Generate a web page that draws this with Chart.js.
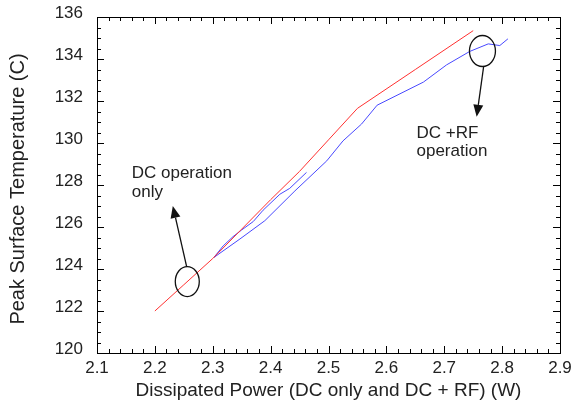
<!DOCTYPE html>
<html>
<head>
<meta charset="utf-8">
<script src="https://cdn.jsdelivr.net/npm/chart.js@4.4.0/dist/chart.umd.min.js"></script>
<style>
  html, body { margin: 0; padding: 0; background: #fff; }
  #wrap { width: 573px; height: 405px; }
</style>
</head>
<body>
<div id="wrap"><canvas id="chart" width="573" height="405"></canvas></div>
<script>
// DC only (red)
const dcPower = [2.20, 2.25, 2.30, 2.35, 2.40, 2.45, 2.50, 2.55, 2.65, 2.75];
const dcTemp  = [122.0, 123.25, 124.5, 125.9, 127.3, 128.65, 130.15, 131.65, 133.5, 135.35];

// DC + RF, main run (blue)
const rfPower = [2.302, 2.347, 2.39, 2.442, 2.497, 2.525, 2.557, 2.584, 2.664, 2.704, 2.744, 2.776, 2.796, 2.81];
const rfTemp  = [124.55, 125.43, 126.3, 127.72, 129.15, 130.1, 130.9, 131.8, 132.9, 133.72, 134.36, 134.72, 134.64, 134.96];

// DC + RF, short run (blue)
const rf2Power = [2.302, 2.318, 2.335, 2.35, 2.37, 2.387, 2.416, 2.433, 2.462];
const rf2Temp  = [124.55, 125.1, 125.54, 125.86, 126.26, 126.8, 127.56, 127.84, 128.6];

const xTickLabels = ['2.1', '2.2', '2.3', '2.4', '2.5', '2.6', '2.7', '2.8', '2.9'];
const yTickLabels = ['120', '122', '124', '126', '128', '130', '132', '134', '136'];

const xTitle = 'Dissipated Power (DC only and DC + RF) (W)';
const yTitle = 'Peak Surface Temperature (C)';

function pairs(xs, ys) {
  return xs.map((x, i) => ({ x: x, y: ys[i] }));
}

const FONT = '"Liberation Sans", Arial, sans-serif';

// callouts: ellipse + arrow + label, in data units
const callouts = [
  { cx: 2.256, cy: 123.4, rx: 12, ry: 15, from: [2.255, 124.1], to: [2.231, 127.0],
    text: ['DC operation', 'only'], tx: 2.16, ty: [128.33, 127.43] },
  { cx: 2.766, cy: 134.38, rx: 13, ry: 15.5, from: [2.768, 133.63], to: [2.756, 131.25],
    text: ['DC +RF', 'operation'], tx: 2.652, ty: [130.22, 129.36] }
];

const framePlugin = {
  id: 'frame',
  afterDraw(chart) {
    const ctx = chart.ctx;
    const a = chart.chartArea;
    const xs = chart.scales.x, ys = chart.scales.y;
    ctx.save();
    ctx.strokeStyle = '#000';
    ctx.lineWidth = 1;
    ctx.strokeRect(Math.round(a.left) + 0.5, Math.round(a.top) + 0.5,
      Math.round(a.right - a.left), Math.round(a.bottom - a.top));

    // inward ticks on all four sides
    ctx.beginPath();
    for (let v = 2.1; v <= 2.9001; v += 0.02) {
      const px = Math.round(xs.getPixelForValue(v)) + 0.5;
      const major = Math.abs(v * 10 - Math.round(v * 10)) < 0.01;
      const len = major ? 7 : 4;
      ctx.moveTo(px, a.bottom); ctx.lineTo(px, a.bottom - len);
      ctx.moveTo(px, a.top); ctx.lineTo(px, a.top + len);
    }
    for (let v = 120; v <= 136.001; v += 0.5) {
      const py = Math.round(ys.getPixelForValue(v)) + 0.5;
      const major = Math.abs(v / 2 - Math.round(v / 2)) < 0.01;
      const len = major ? 7 : 4;
      ctx.moveTo(a.left, py); ctx.lineTo(a.left + len, py);
      ctx.moveTo(a.right, py); ctx.lineTo(a.right - len, py);
    }
    ctx.stroke();

    // axis titles
    ctx.fillStyle = '#222';
    ctx.textAlign = 'center';
    ctx.textBaseline = 'middle';
    ctx.font = '19px ' + FONT;
    ctx.fillText(xTitle, (a.left + a.right) / 2, 391);
    ctx.save();
    ctx.translate(18, 189);
    ctx.rotate(-Math.PI / 2);
    ctx.font = '20px ' + FONT;
    ctx.fillText(yTitle, 0, 0);
    ctx.restore();

    // callouts
    callouts.forEach(c => {
      ctx.strokeStyle = '#111';
      ctx.lineWidth = 1.3;
      ctx.beginPath();
      ctx.ellipse(xs.getPixelForValue(c.cx), ys.getPixelForValue(c.cy), c.rx, c.ry, 0, 0, Math.PI * 2);
      ctx.stroke();

      const x1 = xs.getPixelForValue(c.from[0]), y1 = ys.getPixelForValue(c.from[1]);
      const x2 = xs.getPixelForValue(c.to[0]), y2 = ys.getPixelForValue(c.to[1]);
      const ang = Math.atan2(y2 - y1, x2 - x1);
      const hl = 12, hw = 5;
      const bx = x2 - hl * Math.cos(ang), by = y2 - hl * Math.sin(ang);
      ctx.beginPath();
      ctx.moveTo(x1, y1); ctx.lineTo(bx, by);
      ctx.stroke();
      ctx.fillStyle = '#111';
      ctx.beginPath();
      ctx.moveTo(x2, y2);
      ctx.lineTo(bx + hw * Math.sin(ang), by - hw * Math.cos(ang));
      ctx.lineTo(bx - hw * Math.sin(ang), by + hw * Math.cos(ang));
      ctx.closePath();
      ctx.fill();

      ctx.fillStyle = '#222';
      ctx.font = '17px ' + FONT;
      ctx.textAlign = 'left';
      ctx.textBaseline = 'alphabetic';
      c.text.forEach((t, i) => {
        ctx.fillText(t, xs.getPixelForValue(c.tx), ys.getPixelForValue(c.ty[i]));
      });
    });
    ctx.restore();
  }
};

new Chart(document.getElementById('chart'), {
  type: 'scatter',
  data: {
    datasets: [
      { label: 'DC only', data: pairs(dcPower, dcTemp), showLine: true,
        borderColor: '#ff3030', borderWidth: 1, pointRadius: 0, tension: 0 },
      { label: 'DC + RF', data: pairs(rfPower, rfTemp), showLine: true,
        borderColor: '#4848ff', borderWidth: 1, pointRadius: 0, tension: 0 },
      { label: 'DC + RF (2)', data: pairs(rf2Power, rf2Temp), showLine: true,
        borderColor: '#4848ff', borderWidth: 1, pointRadius: 0, tension: 0 }
    ]
  },
  options: {
    responsive: false,
    animation: false,
    layout: { padding: { top: 17, right: 13, left: 0, bottom: 0 } },
    plugins: { legend: { display: false }, tooltip: { enabled: false } },
    scales: {
      x: {
        type: 'linear', min: 2.1, max: 2.9,
        afterBuildTicks(s) { s.ticks = xTickLabels.map(t => ({ value: parseFloat(t) })); },
        afterFit(s) { s.height = 52; s.paddingLeft = 0; s.paddingRight = 0; },
        grid: { display: false, drawTicks: false },
        border: { display: false },
        ticks: {
          callback: (v, i) => xTickLabels[i],
          color: '#222', padding: 5, maxRotation: 0, autoSkip: false,
          font: { family: FONT, size: 17 }
        }
      },
      y: {
        type: 'linear', min: 120, max: 136,
        afterBuildTicks(s) { s.ticks = yTickLabels.map(t => ({ value: parseFloat(t) })); },
        afterFit(s) { s.width = 97; s.paddingTop = 0; s.paddingBottom = 0; },
        grid: { display: false, drawTicks: false },
        border: { display: false },
        ticks: {
          callback: (v, i) => yTickLabels[i],
          color: '#222', padding: 14, autoSkip: false, labelOffset: -4,
          font: { family: FONT, size: 17 }
        }
      }
    }
  },
  plugins: [framePlugin]
});
</script>
</body>
</html>
